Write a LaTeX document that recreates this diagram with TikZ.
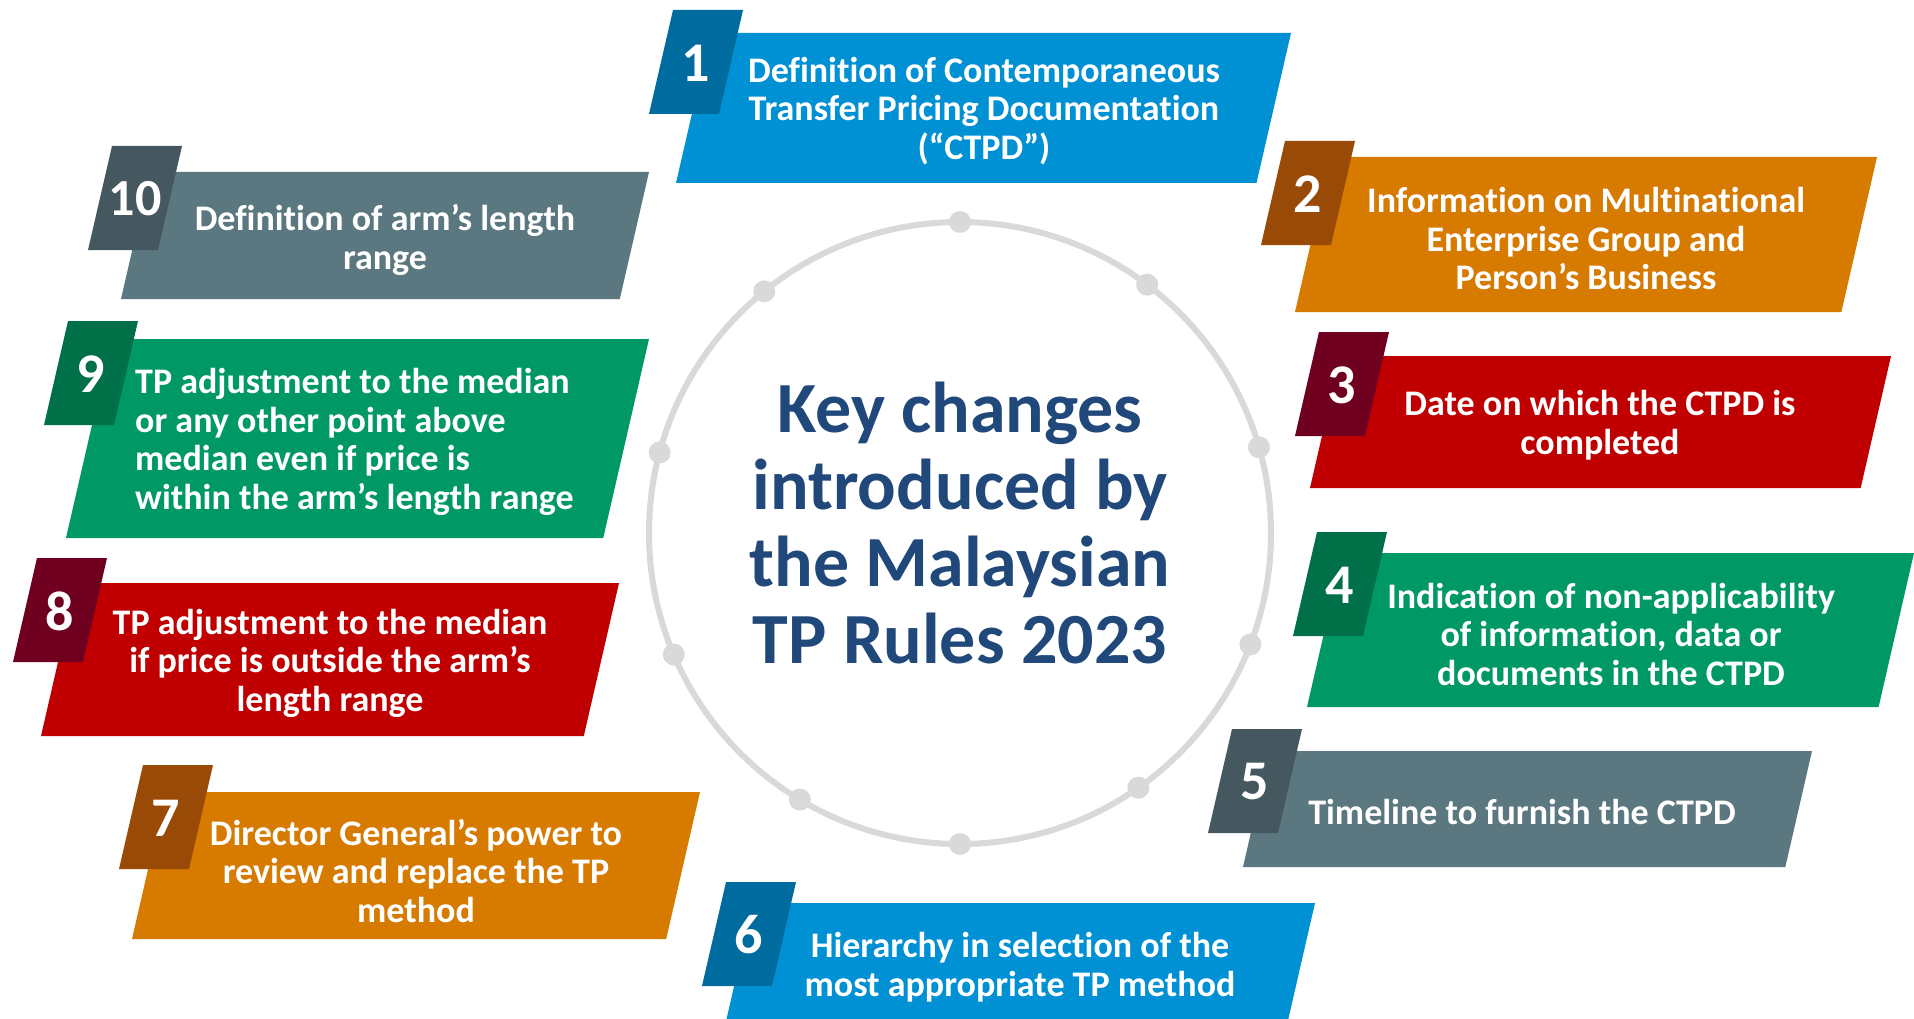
\documentclass[tikz,border=0pt]{standalone}
\usepackage{fontspec}
\setmainfont[Ligatures=NoCommon]{Carlito}
\definecolor{bluemain}{RGB}{0,144,212}
\definecolor{bluedark}{RGB}{0,107,158}
\definecolor{orangemain}{RGB}{214,122,0}
\definecolor{orangedark}{RGB}{153,74,6}
\definecolor{redmain}{RGB}{192,0,0}
\definecolor{reddark}{RGB}{112,0,32}
\definecolor{greenmain}{RGB}{0,153,102}
\definecolor{greendark}{RGB}{0,112,72}
\definecolor{slatemain}{RGB}{91,119,128}
\definecolor{slatedark}{RGB}{69,88,96}
\definecolor{ringgray}{RGB}{217,217,217}
\definecolor{titleblue}{RGB}{33,72,122}
\newcommand\tpbox[9]{%
  \pgfmathsetmacro\tphh{#4-#3}%
  \fill[#2main] (#5,#4) -- ({#6-0.23*\tphh},#4) -- (#6,#3) -- ({#5+0.23*\tphh},#3) -- cycle;
  \fill[#2dark] (#8,#7+104) -- (#8+70,#7+104) -- (#8+94,#7) -- (#8+24,#7) -- cycle;
  \node[numstyle] (#1n) at (#8+47,#7+53) {#9};
}
\begin{document}
\begin{tikzpicture}[x=1pt,y=-1pt,
  numstyle/.style={text=white,font={\fontsize{56}{60}\selectfont\bfseries},inner sep=0pt},
  txt/.style={text=white,font={\fontsize{36}{38.5}\selectfont\bfseries},align=center,inner sep=0pt},
  txtl/.style={txt,align=left,anchor=west},
  titlestyle/.style={text=titleblue,font={\fontsize{72}{77}\selectfont\bfseries},align=center,inner sep=0pt},
  dot/.style={fill=ringgray}]
\useasboundingbox (0,0) rectangle (1914,1019);
\fill[white] (0,0) rectangle (1914,1019);

% central ring
\node[circle,draw=ringgray,line width=6pt,minimum size=622pt,outer sep=0pt,inner sep=0pt] (ring) at (960,533) {};
\foreach \a in {90,53,16,-21,-55,-90,-121,-157,165,129}{
  \fill[dot] (ring.\a) circle (11);
}
\node[titlestyle] (title) at (960,523) {Key changes\\introduced by\\the Malaysian\\TP Rules 2023};

% boxes
\tpbox{b1}{blue}{33}{183}{676}{1291}{10}{649}{1}
\node[txt] (t1) at (984,111) {Definition of Contemporaneous\\Transfer Pricing Documentation\\(“CTPD”)};

\tpbox{b2}{orange}{157}{312}{1295}{1877}{141}{1261}{2}
\node[txt] (t2) at (1586,239) {Information on Multinational\\Enterprise Group and\\Person’s Business};

\tpbox{b3}{red}{356}{488}{1310}{1891}{332}{1295}{3}
\node[txt] (t3) at (1600,425) {Date on which the CTPD is\\completed};

\tpbox{b4}{green}{553}{707}{1307}{1914}{532}{1293}{4}
\node[txt] (t4) at (1611,634) {Indication of non-applicability\\of information, data or\\documents in the CTPD};

\tpbox{b5}{slate}{751}{867}{1243}{1812}{729}{1208}{5}
\node[txt] (t5) at (1522,812) {Timeline to furnish the CTPD};

\tpbox{b6}{blue}{903}{1030}{724}{1315}{882}{702}{6}
\node[txt] (t6) at (1020,967) {Hierarchy in selection of the\\most appropriate TP method};

\tpbox{b7}{orange}{792}{939}{132}{700}{765}{119}{7}
\node[txt] (t7) at (416,871) {Director General’s power to\\review and replace the TP\\method};

\tpbox{b8}{red}{583}{736}{41}{619}{558}{13}{8}
\node[txt] (t8) at (330,663) {TP adjustment to the median\\if price is outside the arm’s\\length range};

\tpbox{b9}{green}{339}{538}{66}{649}{321}{44}{9}
\node[txtl] (t9) at (135,442) {TP adjustment to the median\\or any other point above\\median even if price is\\within the arm’s length range};

\tpbox{b10}{slate}{172}{299}{121}{649}{146}{88}{\fontsize{52}{56}\selectfont 10}
\node[txt] (t10) at (385,240) {Definition of arm’s length\\range};
\end{tikzpicture}
\end{document}
